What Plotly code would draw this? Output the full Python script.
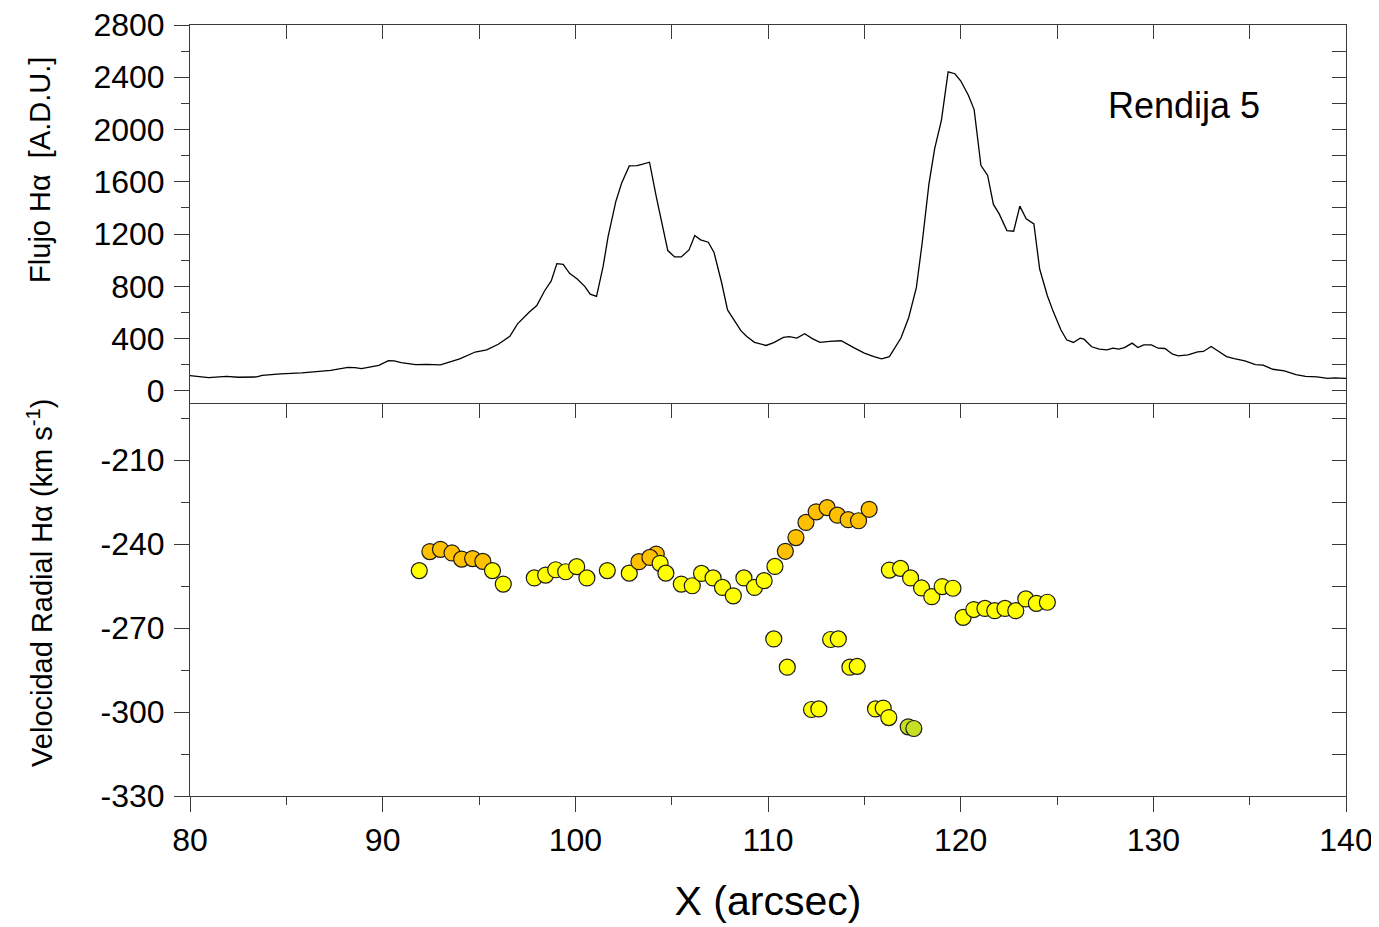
import plotly.graph_objects as go

# ---------------- data ----------------
# Top panel: H-alpha flux profile along slit
pos_flujo = [80.0, 80.96, 81.9, 82.5, 83.46, 83.75, 84.7, 85.8, 87.3, 88.2, 88.56, 88.9,
             89.8, 90.3, 90.6, 90.96, 91.7, 92.3, 93.0, 93.46, 94.0, 94.8, 95.4, 96.0,
             96.6, 97.0, 97.6, 98.0, 98.4, 98.75, 99.04, 99.37, 99.7, 100.1, 100.5, 100.77,
             101.1, 101.44, 101.7, 102.1, 102.4, 102.8, 103.2, 103.5, 103.85, 104.2, 104.8,
             105.15, 105.5, 105.9, 106.2, 106.5, 106.9, 107.2, 107.6, 107.9, 108.3, 108.6,
             108.9, 109.3, 109.9, 110.3, 110.8, 111.1, 111.5, 111.9, 112.3, 112.7, 113.2,
             113.8, 114.4, 115.0, 115.5, 115.9, 116.3, 116.9, 117.3, 117.7, 118.0, 118.35,
             118.65, 119.0, 119.35, 119.7, 120.0, 120.4, 120.7, 121.05, 121.4, 121.7, 122.0,
             122.4, 122.75, 123.07, 123.4, 123.8, 124.1, 124.5, 124.8, 125.2, 125.5, 125.85,
             126.2, 126.4, 126.8, 127.2, 127.6, 127.9, 128.2, 128.5, 128.9, 129.2, 129.5,
             129.9, 130.25, 130.6, 131.0, 131.3, 131.8, 132.3, 132.6, 133.0, 133.4, 133.8,
             134.2, 134.75, 135.3, 135.7, 136.2, 136.8, 137.4, 137.9, 138.5, 139.05, 139.4,
             140.0]
flujo = [117, 102, 112, 105, 107, 120, 130, 138, 158, 181, 179, 171,
         196, 232, 230, 217, 202, 204, 199, 222, 245, 298, 314, 357,
         418, 513, 602, 653, 765, 842, 974, 969, 900, 857, 798, 740,
         724, 951, 1181, 1449, 1589, 1722, 1724, 1735, 1750, 1487, 1074,
         1026, 1026, 1079, 1189, 1156, 1138, 1059, 824, 620, 531, 459,
         416, 372, 348, 370, 410, 415, 405, 438, 400, 372, 380,
         384, 335, 290, 262, 245, 262, 405, 560, 790, 1130, 1580,
         1854, 2071, 2442, 2427, 2373, 2263, 2153, 1726, 1649, 1427, 1355,
         1227, 1222, 1414, 1317, 1278, 933, 729, 609, 468, 391, 371,
         404, 396, 338, 320, 315, 327, 320, 332, 366, 332, 353,
         353, 327, 325, 281, 269, 276, 299, 302, 340, 302, 263,
         248, 230, 202, 197, 166, 153, 125, 112, 107, 97, 100,
         97]

# Bottom panel: H-alpha radial velocity
pos_vel = [91.9, 92.45, 93.0, 93.6, 94.1, 94.67, 95.2, 95.7, 96.26, 97.87, 98.46, 98.98,
           99.5, 100.07, 100.6, 101.66, 102.8, 103.3, 104.2, 103.87, 104.4, 104.7, 105.5,
           106.07, 106.55, 107.15, 107.64, 108.2, 108.75, 109.3, 109.8, 110.3, 110.36,
           110.9, 111.0, 111.45, 111.97, 112.26, 112.5, 112.64, 113.07, 113.25, 113.6,
           113.65, 114.16, 114.25, 114.63, 114.7, 115.25, 115.58, 115.98, 116.27, 116.3,
           116.88, 117.28, 117.4, 117.57, 117.97, 118.5, 119.04, 119.6, 120.13, 120.68,
           121.26, 121.77, 122.3, 122.86, 123.38, 123.93, 124.5]
velocidad = [-249.5, -242.7, -241.9, -243.2, -245.4, -245.2, -246.2, -249.5, -254.3, -252.1,
             -251.1, -249.2, -249.9, -248.1, -252.1, -249.5, -250.4, -246.3, -243.6, -244.8,
             -246.9, -250.4, -254.3, -254.9, -250.5, -252.1, -255.5, -258.5, -252.1, -255.5,
             -253.1, -273.9, -248.0, -242.6, -284.0, -237.7, -232.3, -299.1, -228.5, -298.9,
             -227.0, -274.1, -229.7, -273.9, -231.3, -284.0, -283.7, -231.7, -227.6, -298.9,
             -298.6, -302.0, -249.3, -248.7, -305.3, -252.1, -305.9, -255.7, -258.8, -255.2,
             -255.8, -266.2, -263.4, -263.0, -263.8, -263.0, -263.8, -259.6, -261.2, -260.8]
grupo = ["Y", "O", "O", "O", "O", "O", "O", "Y", "Y", "Y",
         "Y", "Y", "Y", "Y", "Y", "Y", "Y", "O", "O", "O",
         "Y", "Y", "Y", "Y", "Y", "Y", "Y", "Y", "Y", "Y",
         "Y", "Y", "Y", "O", "Y", "O", "O", "Y", "O", "Y",
         "O", "Y", "O", "Y", "O", "Y", "Y", "O", "O", "Y",
         "Y", "Y", "Y", "Y", "G", "Y", "G", "Y", "Y", "Y",
         "Y", "Y", "Y", "Y", "Y", "Y", "Y", "Y", "Y", "Y"]

x_ticks = [80, 90, 100, 110, 120, 130, 140]
flux_ticks = [0, 400, 800, 1200, 1600, 2000, 2400, 2800]
vel_ticks = [-330, -300, -270, -240, -210]
vel_ticklabels = ["-330", "-300", "-270", "-240", "-210"]

# ---------------- style ----------------
FONT = "Liberation Sans, Arial, sans-serif"
AX = "#3a3a3a"
palette = {"Y": "#FFFF00", "O": "#FFC000", "G": "#C5DF22"}
TOP_DOM = [0.5084, 1.0]
BOT_DOM = [0.0, 0.5084]
PAGE_OFFSET = 8  # default body margin of the html page

fig = go.Figure()
fig.add_trace(go.Scatter(x=pos_flujo, y=flujo, mode="lines", xaxis="x2", yaxis="y2",
                         line=dict(color="black", width=1.3), showlegend=False,
                         hoverinfo="x+y"))
fig.add_trace(go.Scatter(x=pos_vel, y=velocidad, mode="markers", xaxis="x", yaxis="y",
                         marker=dict(size=16, color=[palette[g] for g in grupo],
                                     line=dict(color="#1a1a1a", width=1.2)),
                         showlegend=False))
# empty traces to bind the decorative mirror axes
for xa, ya in [("x3", "y"), ("x4", "y2"), ("x", "y3"), ("x2", "y4")]:
    fig.add_trace(go.Scatter(x=[], y=[], xaxis=xa, yaxis=ya, showlegend=False,
                             hoverinfo="skip"))

common = dict(showgrid=False, zeroline=False, linecolor=AX, linewidth=1,
              tickcolor=AX, tickwidth=1, automargin=False)
tickfont = dict(size=32, family=FONT, color="black")

fig.update_layout(
    width=1379 - PAGE_OFFSET, height=927 - PAGE_OFFSET,
    margin=dict(l=190 - PAGE_OFFSET, r=33, t=25 - PAGE_OFFSET, b=131),
    paper_bgcolor="white", plot_bgcolor="white",
    font=dict(family=FONT, color="black"),
    xaxis=dict(domain=[0, 1], anchor="y", range=[80, 140], tickvals=x_ticks,
               ticks="outside", ticklen=15, ticklabelstandoff=1, showline=True,
               tickfont=tickfont, ticklabeloverflow="allow",
               minor=dict(dtick=5, tick0=80, ticks="outside", ticklen=8,
                          tickcolor=AX, tickwidth=1),
               title=dict(text="X (arcsec)", font=dict(size=41, family=FONT, color="black"),
                          standoff=28),
               **common),
    yaxis=dict(domain=BOT_DOM, anchor="x", range=[-330, -190], tickvals=vel_ticks,
               ticktext=vel_ticklabels, showline=True,
               ticks="outside", ticklen=15, ticklabelstandoff=3,
               tickfont=tickfont, ticklabeloverflow="allow",
               minor=dict(dtick=15, tick0=-330, ticks="outside", ticklen=8,
                          tickcolor=AX, tickwidth=1),
               **common),
    xaxis2=dict(domain=[0, 1], anchor="y2", range=[80, 140], matches="x",
                ticks="", showticklabels=False, showline=False, **common),
    yaxis2=dict(domain=TOP_DOM, anchor="x2", range=[-100, 2800], tickvals=flux_ticks,
                ticks="outside", ticklen=15, ticklabelstandoff=3, showline=True,
                tickfont=tickfont, ticklabeloverflow="allow",
                minor=dict(dtick=200, tick0=0, ticks="outside", ticklen=8,
                           tickcolor=AX, tickwidth=1),
                **common),
    # decorative mirror axes (ticks inside)
    xaxis3=dict(overlaying="x", anchor="y", side="top", range=[80, 140],
                dtick=5, tick0=80, ticks="inside", ticklen=14, showline=True,
                showticklabels=False, **common),
    xaxis4=dict(overlaying="x2", anchor="y2", side="top", range=[80, 140],
                dtick=5, tick0=80, ticks="inside", ticklen=14, showline=True,
                showticklabels=False, **common),
    yaxis3=dict(overlaying="y", anchor="x", side="right", range=[-330, -190],
                dtick=15, tick0=-330, ticks="inside", ticklen=14, showline=True,
                showticklabels=False, **common),
    yaxis4=dict(overlaying="y2", anchor="x2", side="right", range=[-100, 2800],
                dtick=200, tick0=0, ticks="inside", ticklen=14, showline=True,
                showticklabels=False, **common),
    annotations=[
        dict(text="Rendija 5", x=131.6, y=2185, xref="x2", yref="y2", showarrow=False,
             xanchor="center", yanchor="middle",
             font=dict(size=36, family=FONT, color="black")),
        dict(text="Flujo H\u03b1  [A.D.U.]", x=-0.1298, y=0.812, xref="paper", yref="paper",
             xanchor="center", yanchor="middle",
             textangle=-90, showarrow=False, font=dict(size=29, family=FONT, color="black")),
        dict(text="Velocidad Radial H\u03b1 (km s<sup>-1</sup>)", x=-0.1298, y=0.2763,
             xref="paper", yref="paper", xanchor="center", yanchor="middle",
             textangle=-90, showarrow=False,
             font=dict(size=29, family=FONT, color="black")),
    ],
)

fig.write_html("out.html")
